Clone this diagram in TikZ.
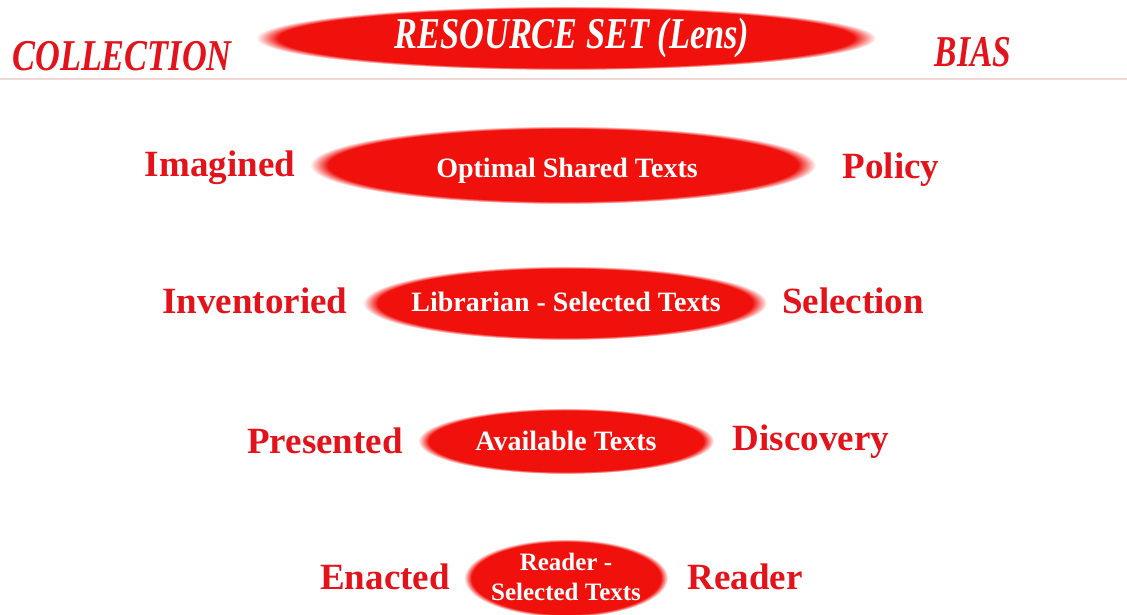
\documentclass[tikz,border=0pt]{standalone}
\usepackage{fontspec}
\setmainfont{Liberation Serif}
\usepackage{xcolor}
\usepackage{tikz}
\usetikzlibrary{positioning}

\definecolor{lensred}{RGB}{240,16,12}
\definecolor{labred}{RGB}{228,18,26}
\definecolor{rulepink}{RGB}{240,214,214}
\pgfdeclareradialshading{lensglow}{\pgfpoint{0bp}{0bp}}{%
  color(0bp)=(lensred); color(23.2bp)=(lensred); color(25bp)=(white); color(50bp)=(white)}

\tikzset{
  lens/.style={shading=lensglow},
  lab/.style={text=labred, font=\fontsize{37}{40}\selectfont\bfseries, anchor=base, inner sep=0pt},
  inlab/.style={text=white, font=\fontsize{28}{30}\selectfont\bfseries, anchor=base, inner sep=0pt},
  head/.style={text=labred, font=\fontsize{44}{46}\selectfont\bfseries\itshape, anchor=base, inner sep=0pt}
}

\begin{document}
\begin{tikzpicture}[x=1pt,y=-1pt]
\useasboundingbox (0,0) rectangle (1127,614);
\def\lensat#1#2#3{(#1) ellipse ({#2} and {#3})}
  \shade[lens] \lensat{566,38}{310}{32};
  \shade[lens] \lensat{563,165}{253}{39};
  \shade[lens] \lensat{565,303}{202}{37};
  \shade[lens] \lensat{566,441}{148}{33};
  \shade[lens] \lensat{566,578}{102}{39};
  \draw[rulepink, line width=2pt] (0,79) -- (1127,79);
  % top row
  \node[head] (coll) at (122,70) {\scalebox{0.78}[1]{COLLECTION}};
  \node[head, text=white] (rset) at (572,48) {\scalebox{0.78}[1]{RESOURCE SET (Lens)}};
  \node[head] (bias) at (973,66) {\scalebox{0.76}[1]{BIAS}};
  % levels
  \node[lab] (imag) at (220,176) {Imagined};
  \node[inlab] (opt) at (567,177) {Optimal Shared Texts};
  \node[lab] (pol) at (891,178) {Policy};
  \node[lab] (inv) at (255,313) {Inventoried};
  \node[inlab] (lib) at (566,311) {Librarian - Selected Texts};
  \node[lab] (sel) at (853,313) {Selection};
  \node[lab] (pres) at (325,453) {Presented};
  \node[inlab] (avail) at (566,450) {Available Texts};
  \node[lab] (disc) at (811,450) {Discovery};
  \node[lab] (enac) at (385,589) {Enacted};
  \node[inlab, font=\fontsize{25}{29}\selectfont\bfseries] (rd1) at (566,570) {Reader -};
  \node[inlab, font=\fontsize{25}{29}\selectfont\bfseries] (rd2) at (566,600) {Selected Texts};
  \node[lab] (read) at (745,589) {Reader};
\end{tikzpicture}
\end{document}
